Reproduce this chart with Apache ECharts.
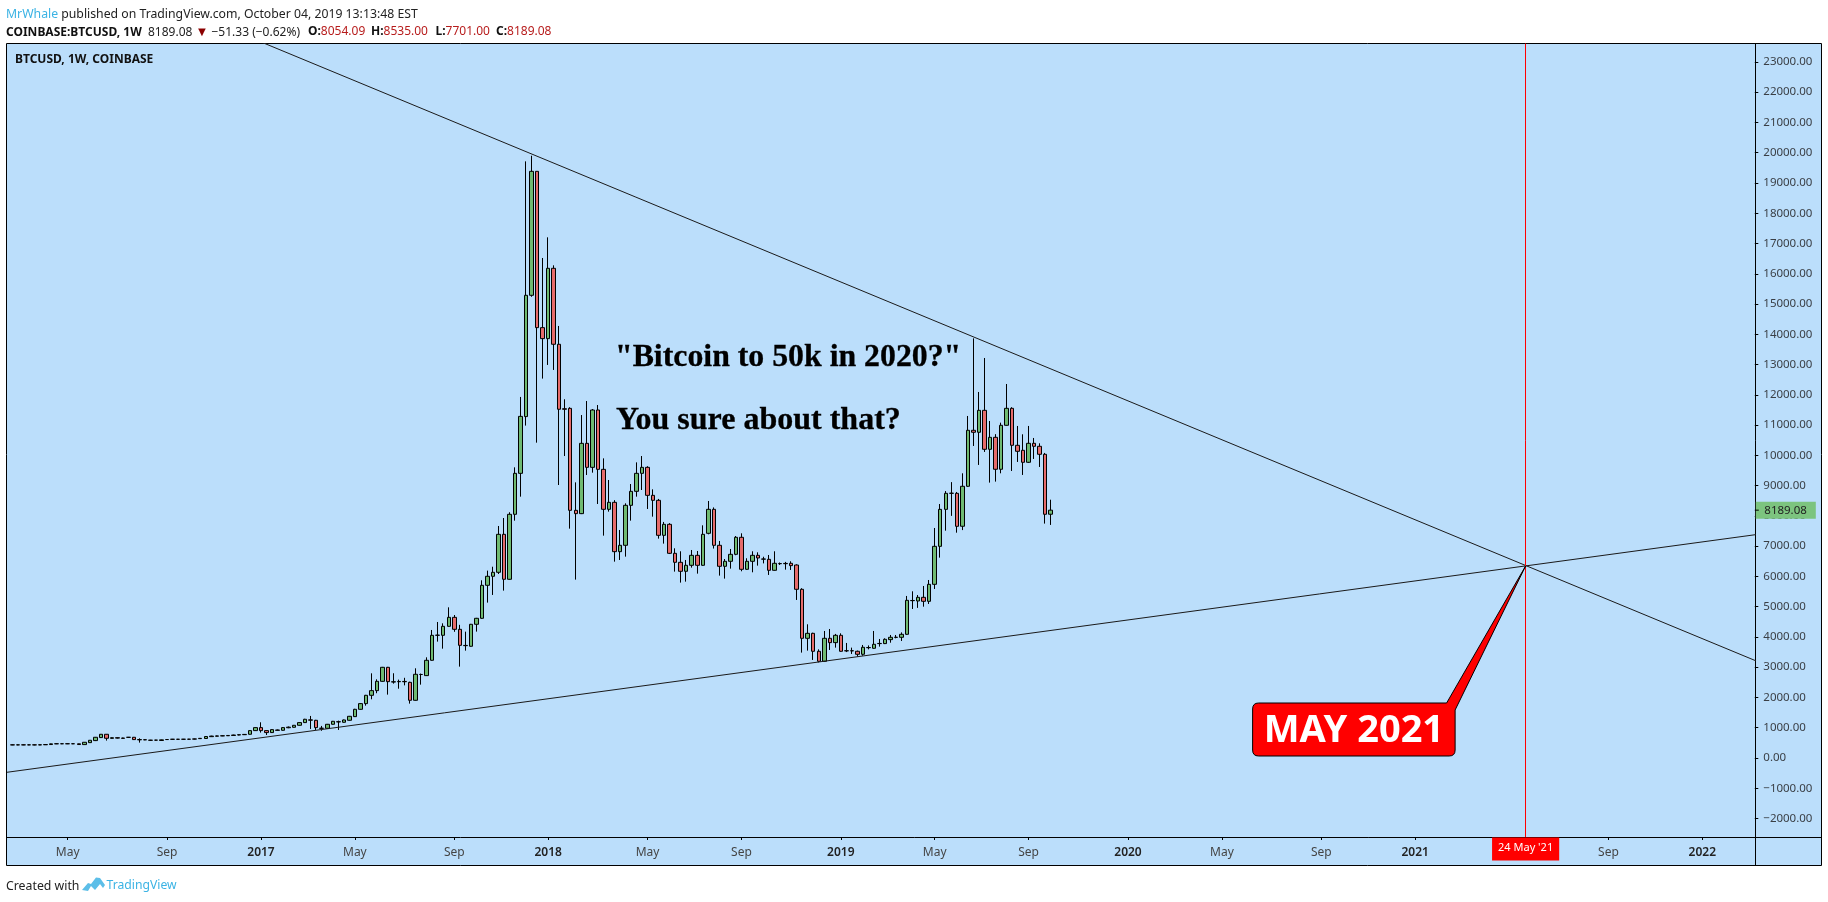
<!DOCTYPE html>
<html><head><meta charset="utf-8">
<style>html,body{margin:0;padding:0;background:#fff}#c{width:1828px;height:902px}</style>
<script src="https://cdn.jsdelivr.net/npm/echarts@6/dist/echarts.min.js"></script>
</head><body><div id="c"></div>
<script>
// weekly bars, [open, close, low, high], first bar = week index 1 (22 Feb 2016)
const weeklyBars = [
[435,432,425,445],[432,435,425,445],[435,433,425,445],[433,435,425,445],[435,432,420,445],[432,437,425,445],
[437,445,430,455],[445,468,440,475],[468,472,460,480],[472,470,460,480],[470,472,460,480],[472,470,460,480],[470,445,440,475],
[443,520,440,525],[508,586,500,590],[575,685,560,695],[674,784,665,790],[784,652,575,790],
[650,670,640,680],[670,658,645,680],[660,650,640,670],[685,683,670,695],[685,608,600,695],[600,610,508,650],
[605,600,590,615],[590,585,575,600],[590,590,580,600],[580,600,570,610],[610,610,600,620],
[620,618,610,630],[618,620,610,630],[620,620,612,630],[620,622,612,632],[625,630,615,640],[640,650,630,660],
[645,710,640,720],[705,725,700,735],[720,730,712,742],[730,735,722,745],[735,745,728,755],[745,760,738,770],[760,770,750,780],[770,780,760,790],
[784,905,775,915],[905,1004,895,1015],[1004,905,840,1180],[905,840,760,915],[840,938,830,950],[925,915,905,940],
[916,1004,905,1020],[1000,1020,985,1040],[1015,1081,1005,1090],[1081,1170,1070,1180],[1170,1280,1160,1295],[1260,1250,960,1390],
[1246,1004,926,1260],[985,980,900,1060],[982,1114,975,1125],[1114,1213,1105,1225],[1192,1200,927,1235],
[1180,1257,1170,1270],[1246,1378,1235,1390],[1367,1609,1355,1625],[1609,1797,1595,1815],[1797,2072,1730,2085],[2072,2226,1940,2798],
[2226,2534,2140,2600],[2534,2997,2520,3010],[2997,2523,2094,3010],[2510,2520,2457,2800],[2520,2530,2290,2590],[2530,2520,2400,2650],
[2501,1907,1797,2520],[1907,2766,1895,2964],[2760,2760,2424,2790],[2722,3228,2710,3327],[3228,4054,3215,4230],[4054,4060,3845,4494],
[4054,4351,3613,4450],[4351,4648,4340,4979],[4648,4252,4170,4725],[4252,3723,3019,4400],[3712,3720,3547,4175],[3692,4418,3680,4430],
[4418,4616,4176,4630],[4616,5706,4600,5872],[5706,6004,5134,6191],[6004,6136,5387,6320],[6136,7391,6080,7666],[7391,5905,5530,7930],
[5905,8052,5890,8120],[8052,9406,7842,9604],[9406,11288,8635,11930],[11281,15288,10983,19714],[15288,19384,15240,19900],[19384,14220,10419,19384],
[14220,13857,12536,16521],[13857,16180,12987,17204],[16180,13670,12822,16279],[13670,11523,9020,14275],[11540,11523,9978,11853],[11553,8184,7578,11590],
[8184,8074,5894,9108],[8074,10397,8060,11332],[10397,9604,9351,11795],[9604,11498,9428,11530],[11498,9538,8393,11663],[9538,8217,7347,9901],
[8217,8448,8140,9186],[8448,6818,6488,8520],[6818,7028,6543,7534],[7028,8349,6653,8415],[8349,8811,7842,9053],[8811,9406,8635,9769],
[9406,9604,8855,9978],[9604,8679,8228,9640],[8679,8514,7974,8877],[8514,7358,7248,8560],[7358,7721,7083,7800],[7721,6763,6740,7760],
[6763,6466,6158,6929],[6466,6169,5795,6830],[6169,6367,5827,6543],[6367,6697,6290,6873],[6697,6367,6092,6840],[6367,7391,6350,7688],
[7424,8217,7390,8492],[8217,7028,6920,8280],[7028,6334,6026,7171],[6334,6499,5927,6575],[6499,6730,6257,6906],[6730,7292,6700,7335],
[7292,6235,6170,7424],[6235,6499,6220,6600],[6499,6697,6136,6830],[6697,6609,6356,6796],[6570,6576,6430,6650],[6565,6202,6048,6708],
[6202,6433,6190,6830],[6420,6425,6380,6460],[6430,6420,6224,6480],[6433,6356,6213,6500],[6377,5574,5222,6400],
[5574,3955,3482,5610],[3955,4120,3548,4418],[4120,3526,3240,4140],[3526,3195,3160,3590],[3195,3955,3180,4197],[3955,3812,3570,4263],
[3812,4054,3647,4100],[4054,3526,3510,4120],[3540,3545,3500,3801],[3540,3545,3438,3647],[3526,3427,3350,3550],[3427,3658,3380,3735],
[3645,3650,3590,3720],[3625,3757,3610,4197],[3780,3785,3680,3933],[3780,3922,3765,3955],[3911,3988,3810,4065],[3985,3990,3955,4065],
[3988,4087,3867,4150],[4087,5210,4070,5354],[5199,5205,4924,5508],[5188,5309,4960,5385],[5309,5177,5000,5684],[5177,5739,5090,5882],
[5739,6994,5585,7600],[6994,8216,6620,8392],[8216,8745,7511,8820],[8745,8750,8000,9115],[8745,7655,7445,8790],[7657,8978,7530,9407],
[8978,10828,8960,11301],[10828,10762,10310,13866],[10762,11488,9683,12094],[11488,10200,10112,13217],[10200,10596,9099,11136],[10596,9540,9132,10700],
[9540,10993,9407,11080],[10993,11554,10980,12358],[11554,10332,9484,11590],[10332,10134,9782,10971],[10167,9771,9352,10696],[9771,10398,9750,10971],
[10398,10299,9881,10574],[10299,10035,9616,10398],[10035,8053,7745,10080],[8054,8189.08,7701,8535]
];
const firstWeekUTC = Date.UTC(2016,1,15);
const weekCount = 317;
const categories = Array.from({length:weekCount},(_,i)=>new Date(firstWeekUTC+i*7*864e5).toISOString().slice(0,10));
const tickLabels = {
 '2016-05-02':'May','2016-09-05':'Sep','2017-01-02':'2017','2017-05-01':'May','2017-09-04':'Sep',
 '2018-01-01':'2018','2018-05-07':'May','2018-09-03':'Sep','2019-01-07':'2019','2019-05-06':'May','2019-09-02':'Sep',
 '2020-01-06':'2020','2020-05-04':'May','2020-09-07':'Sep','2021-01-04':'2021','2021-05-24':"24 May '21",'2021-09-06':'Sep','2022-01-03':'2022'
};
const priceTicks = [-2000,-1000,0,1000,2000,3000,4000,5000,6000,7000,8000,9000,10000,11000,12000,13000,14000,15000,16000,17000,18000,19000,20000,21000,22000,23000];
const resistanceLine = [[46,23660],[317,3188]];
const supportLine = [[0,-472],[317,7388]];
const convergenceWeek = '2021-05-24';
const calloutTip = [275,6344];
const lastPrice = 8189.08;

const BG='#BBDEFB', UP='#6FBA72', DOWN='#E56B6B', FONT='"Noto Sans",Tahoma,sans-serif';
const SERIF='"Liberation Serif",serif';
const barData = [['-','-','-','-']].concat(weeklyBars);
const hdrRich={h:{fontWeight:'bold',fill:'#111',fontFamily:FONT,fontSize:12},r:{fill:'#B71C1C',fontFamily:FONT,fontSize:12},t:{fill:'#8B0000',fontFamily:FONT,fontSize:13}};
const hdr=(x,text)=>({type:'text',z:50,x,y:26,style:{fontFamily:FONT,fontSize:12,fill:'#222',text,rich:hdrRich}});

const chart = echarts.init(document.getElementById('c'),null,{renderer:'canvas'});
chart.setOption({
 animation:false,
 backgroundColor:'#ffffff',
 textStyle:{fontFamily:FONT},
 graphic:[
  {type:'rect',z:-5,shape:{x:6.5,y:43.5,width:1815,height:822},style:{fill:BG,stroke:'#000',lineWidth:1}},
  {type:'line',z:-4,shape:{x1:6.5,y1:837.5,x2:1822,y2:837.5},style:{stroke:'#000',lineWidth:1}},
  {type:'line',z:-4,shape:{x1:1755.5,y1:837.5,x2:1755.5,y2:865.5},style:{stroke:'#000',lineWidth:1}},
  {type:'text',z:50,x:6,y:9,style:{fontFamily:FONT,fontSize:12.25,fill:'#222',
    text:'{b|MrWhale} published on TradingView.com, October 04, 2019 13:13:48 EST',
    rich:{b:{fill:'#3BB3E4',fontFamily:FONT,fontSize:12.25}}}},
  hdr(6,'{h|COINBASE:BTCUSD, 1W}  8189.08 {t|▼} −51.33 (−0.62%)'),
  hdr(308,'{h|O:}{r|8054.09}'),hdr(371,'{h|H:}{r|8535.00}'),hdr(435.5,'{h|L:}{r|7701.00}'),hdr(496,'{h|C:}{r|8189.08}'),
  {type:'text',z:50,x:15,y:54,style:{text:'BTCUSD, 1W, COINBASE',fontFamily:FONT,fontSize:12,fontWeight:'bold',fill:'#111'}},
  {type:'text',z:50,x:615,y:342,style:{text:'"Bitcoin to 50k in 2020?"',fontFamily:SERIF,fontSize:31.8,fontWeight:'bold',fill:'#000',stroke:'#000',lineWidth:0.3}},
  {type:'text',z:50,x:616,y:405,style:{text:'You sure about that?',fontFamily:SERIF,fontSize:32,fontWeight:'bold',fill:'#000',stroke:'#000',lineWidth:0.3}},
  {type:'text',z:50,x:6,y:880,style:{fontFamily:FONT,fontSize:12.3,fill:'#222',text:'Created with'}},
  {type:'text',z:50,x:106.5,y:880,style:{text:'TradingView',fontFamily:FONT,fontSize:12.2,fill:'#3BB3E4'}},
  {type:'polygon',z:50,shape:{points:[[82,890],[88,883],[91,884],[96,877.5],[100,878],[105,885],[103,888],[100,884],[95,890],[91,886],[88,891]]},style:{fill:'#5CBEE8'}}
 ],
 grid:{left:4.2,width:1750.6,top:43.5,height:793.5,containLabel:false},
 xAxis:{type:'category',data:categories,boundaryGap:true,
  axisLine:{show:false,onZero:false},
  splitLine:{show:false},
  axisTick:{show:true,alignWithLabel:true,length:3,lineStyle:{color:'#000',width:1},interval:(i,v)=>v in tickLabels},
  axisLabel:{show:true,interval:(i,v)=>v in tickLabels,hideOverlap:false,margin:0.5,
   formatter:v=>{const t=tickLabels[v];if(!t)return '';if(t.indexOf("'")>=0)return '{r|'+t+'}';return /^\d/.test(t)?'{y|'+t+'}':'{m|'+t+'}';},
   rich:{y:{fontFamily:FONT,fontSize:12,fontWeight:600,color:'#222',padding:[9,0,0,0]},
         m:{fontFamily:FONT,fontSize:12,color:'#444',padding:[9,0,0,0]},
         r:{fontFamily:FONT,fontSize:11,color:'#fff',backgroundColor:'#FF0000',padding:[5,6,7,6]}}}
 },
 yAxis:{type:'value',position:'right',min:-2610,max:23608,scale:true,
  splitLine:{show:false},
  axisLine:{show:true,lineStyle:{color:'#000',width:1}},
  axisTick:{show:true,length:3.5,lineStyle:{color:'#000',width:1},customValues:priceTicks},
  axisLabel:{show:true,margin:8.5,align:'left',fontFamily:FONT,fontSize:11.5,color:'#3a3f45',padding:[2,0,0,0],customValues:priceTicks,
   formatter:v=>v.toFixed(2).replace('-','−')}
 },
 series:[
  {type:'candlestick',name:'BTCUSD',data:barData,barWidth:4,clip:true,z:3,
   itemStyle:{color:UP,color0:DOWN,borderColor:'#000',borderColor0:'#000',borderColorDoji:'#000',borderWidth:1},
   markLine:{silent:true,symbol:'none',animation:false,label:{show:false},lineStyle:{color:'#F00',width:1,type:'solid'},data:[{xAxis:convergenceWeek}]}},
  {type:'line',name:'resistance',data:resistanceLine,showSymbol:false,symbol:'none',clip:true,z:4,lineStyle:{color:'#1a1a1a',width:1}},
  {type:'line',name:'support',data:supportLine,showSymbol:false,symbol:'none',clip:true,z:4,lineStyle:{color:'#1a1a1a',width:1}},
  {type:'custom',name:'callout',clip:false,z:6,data:[calloutTip],encode:{x:0,y:1},
   renderItem:(p,api)=>{
    const t=api.coord([api.value(0),api.value(1)]);
    const l=t[0]-273,r=t[0]-70.5,y0=t[1]+137,y1=t[1]+190,q=6;
    const d=`M${l+q} ${y0} L${t[0]-79} ${y0} L${t[0]} ${t[1]} L${r} ${t[1]+144} L${r} ${y1-q} Q${r} ${y1} ${r-q} ${y1} L${l+q} ${y1} Q${l} ${y1} ${l} ${y1-q} L${l} ${y0+q} Q${l} ${y0} ${l+q} ${y0} Z`;
    return {type:'group',children:[
     {type:'path',shape:{pathData:d},style:{fill:'#FF0000',stroke:'#000',lineWidth:1}},
     {type:'text',x:(l+r)/2,y:(y0+y1)/2+2,style:{text:'MAY 2021',fontFamily:FONT,fontSize:38,fontWeight:'bold',fill:'#fff',align:'center',verticalAlign:'middle'}}
    ]};
   }},
  {type:'custom',name:'lastPriceTag',clip:false,z:6,data:[[189,lastPrice]],encode:{x:0,y:1},
   renderItem:(p,api)=>{
    const y=api.coord([api.value(0),api.value(1)])[1];
    const x=p.coordSys.x+p.coordSys.width;
    return {type:'group',children:[
     {type:'rect',shape:{x:x+1,y:y-8.5,width:60,height:17},style:{fill:'#7CC47F'}},
     {type:'line',shape:{x1:x,y1:y,x2:x+4,y2:y},style:{stroke:'#000',lineWidth:1}},
     {type:'text',x:x+9.5,y:y+1,style:{text:'8189.08',fontFamily:FONT,fontSize:11.5,fill:'#222',verticalAlign:'middle'}}
    ]};
   }}
 ]
});
</script></body></html>
